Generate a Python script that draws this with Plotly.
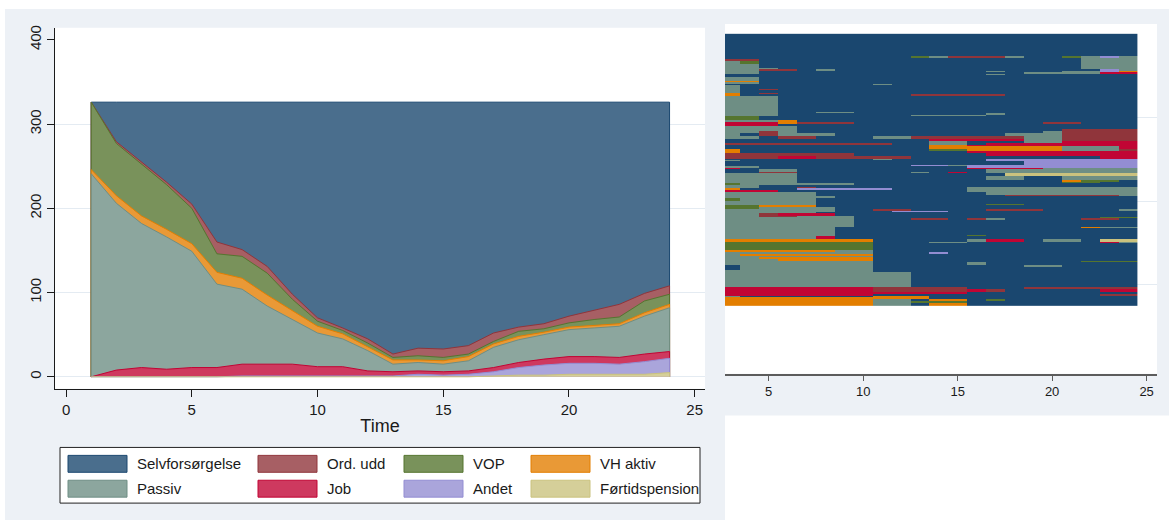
import re
import numpy as np
import plotly.graph_objects as go

W, H = 1169, 522

# ---- states (order = legend order, row-major) ----
states = ["Selvforsørgelse", "Ord. udd", "VOP", "VH aktiv",
          "Passiv", "Job", "Andet", "Førtidspension"]
state_codes = ["S", "O", "V", "H", "P", "J", "A", "F"]
state_rgb = [(26, 71, 111), (144, 53, 59), (85, 117, 47), (227, 126, 0),
             (110, 142, 132), (193, 5, 52), (147, 141, 210), (202, 194, 126)]

# ---- state distribution over time (number of persons) ----
time = list(range(1, 25))
selv = [0, 47, 71, 95, 121, 166, 175, 195, 228, 256, 268, 281,
        299, 292, 293, 289, 274, 267, 263, 254, 247, 240, 227, 218]
ord_udd = [0, 2, 3, 3, 5, 14, 8, 8, 6, 4, 3, 5,
           4, 9, 10, 10, 10, 5, 6, 8, 11, 15, 9, 10]
vop = [80, 62, 61, 53, 42, 22, 26, 26, 13, 6, 4, 4,
       3, 5, 4, 3, 3, 6, 4, 5, 7, 8, 14, 12]
vh_aktiv = [5, 9, 9, 9, 9, 14, 13, 13, 11, 8, 6, 5,
            5, 3, 4, 5, 4, 4, 3, 3, 3, 3, 4, 4]
passiv = [241, 198, 171, 157, 138, 99, 89, 69, 53, 40, 33, 24,
          9, 10, 9, 12, 24, 27, 29, 32, 34, 37, 45, 52]
job = [0, 8, 11, 9, 11, 11, 14, 14, 14, 11, 11, 6,
       5, 4, 4, 4, 5, 6, 7, 8, 8, 8, 9, 8]
andet = [0, 0, 0, 0, 0, 0, 1, 1, 1, 1, 1, 1,
         1, 3, 2, 3, 5, 9, 12, 13, 13, 12, 15, 17]
fortid = [0, 0, 0, 0, 0, 0, 0, 0, 0, 0, 0, 0,
          0, 0, 0, 0, 1, 2, 2, 3, 3, 3, 3, 5]

counts = {"Selvforsørgelse": selv, "Ord. udd": ord_udd, "VOP": vop,
          "VH aktiv": vh_aktiv, "Passiv": passiv, "Job": job,
          "Andet": andet, "Førtidspension": fortid}
stack_order = ["Førtidspension", "Andet", "Job", "Passiv",
               "VH aktiv", "VOP", "Ord. udd", "Selvforsørgelse"]

# ---- individual sequences: (run-length coded states for t=3..24, persons) ----
seq_time = list(range(3, 25))
seq_patterns = [
    ("S22", 14), ("S18O4", 1), ("S22", 11), ("S14A2S4A1F1", 1),
    ("S10V1P1O3P1S2V1P1A1P1", 2), ("S19P3", 1), ("O2S17P3", 2),
    ("P1V1S17P3", 4), ("P2S17P3", 5), ("P3S16P3", 1),
    ("P2O2S1P1S14A1P1", 3), ("P2S12P1S3P2A1H1", 1), ("P2S14P4J2", 2),
    ("S14P1S7", 1), ("S22", 3), ("P2S20", 5), ("H2S20", 1), ("P2S20", 2),
    ("S8P1S13", 1), ("P1S21", 5), ("P1S1O1S19", 1), ("P1S21", 4),
    ("H1S1O1S19", 1), ("H1S9O5S7", 2), ("P3S19", 20), ("P3S2P2S15", 1),
    ("P3S11P1S7", 2), ("P3S7P4S8", 1), ("V2S20", 5), ("P3H1S18", 3),
    ("J3H1O3S10O2S3", 2), ("J3S19", 2), ("P4S18", 4), ("P4S14O4", 3),
    ("P2O1P1S13P1O4", 2), ("P1S1O1P3S9P3O4", 3), ("P2S1O2S3P2O6P2O4", 4),
    ("S11J5P2O4", 3), ("S11P2S3P2J4", 2), ("O9S2P2S1J8", 2),
    ("S11H2J9", 2), ("S11H7P3J1", 3), ("H1S10V2H5P3O1", 2),
    ("H1S12J9", 3), ("O7S7J8", 4), ("O3J2O5S10J2", 3), ("S8P1S5A8", 1),
    ("P1S13A8", 2), ("S16A6", 4), ("S10A2P1A9", 2), ("P2S11A9", 2),
    ("J1S12J4P5", 1), ("S2P2S10P8", 4), ("S2O2S6P1S1J1S1P8", 1),
    ("P4S11F7", 3), ("P4S10P2S2P4", 5), ("P4S14H1V2S1", 2),
    ("P4S14V2S2", 2), ("V1P6S15", 2), ("P2S20", 2), ("P2S2O1S8P9", 2),
    ("H1S3A5S4P9", 2), ("J3S10P9", 2), ("P5S9P8", 4), ("P5S10O6P1", 1),
    ("P6S16", 3), ("V1P4S17", 3), ("P5S17", 4), ("P5S9V2S6", 1),
    ("V2H3S17", 2), ("V2P4S16", 3), ("P6S2O2S4O3S4P1", 2),
    ("P6S3A3S10", 2), ("P5S17", 1), ("P2O1J3S16", 3), ("P2O2P3S15", 2),
    ("P7S13V2", 1), ("P7S3O2S1O1P1S4O2S1", 2), ("P7S15", 9),
    ("P6S13H1P2", 1), ("P6S16", 8), ("P6S7V1S8", 1), ("P5J1S16", 4),
    ("H8S5P1J2S1P2S1F2", 3), ("V8S3P2S7J1P1", 2), ("V8S14", 8),
    ("H6P2S14", 2), ("P8S3A1S10", 3), ("P1H7S14", 2), ("P8S14", 2),
    ("P2H6S14", 2), ("P3H5S14", 2), ("P8S11V3", 2), ("P8S5P1S8", 3),
    ("S1P7S8P2S4", 3), ("S1P7S14", 3), ("P8S14", 3), ("P10S12", 11),
    ("P11S11", 1), ("P10S12", 6), ("J8O5S3O6", 2), ("J8O5J1O1S5J2", 3),
    ("J13S9", 3), ("J8S12O2", 2), ("P1S7H3S11", 2), ("H11S11", 2),
    ("H8P2S1H2S1V1S7", 2), ("H8P2V3S9", 3), ("H8P2S1H2S9", 3),
]


def rgb_hex(c):
    return "#%02x%02x%02x" % tuple(int(round(v)) for v in c)


def tint(c, k=0.79):
    return rgb_hex([v * k + 255 * (1 - k) for v in c])


line_col = {s: rgb_hex(c) for s, c in zip(states, state_rgb)}
fill_col = {s: tint(c) for s, c in zip(states, state_rgb)}


def px_x(p):
    return p / W


def px_y(p):
    return 1 - p / H


fig = go.Figure()

# ---- stacked areas (each drawn from zero up to its cumulative total) ----
cum = {}
running = np.zeros(len(time))
for s in stack_order:
    running = running + np.array(counts[s])
    cum[s] = running.copy()

for s in reversed(stack_order):
    xs = [time[0]] + time + [time[-1]]
    ys = [0] + list(cum[s]) + [0]
    fig.add_trace(go.Scatter(
        x=xs, y=ys, mode="lines", fill="toself",
        fillcolor=fill_col[s], line=dict(color=line_col[s], width=1),
        hoverinfo="skip", xaxis="x", yaxis="y", name=s))

# ---- sequence index plot ----
code_idx = {c: i for i, c in enumerate(state_codes)}
rows = []
for rle, n in seq_patterns:
    seq = []
    for code, k in re.findall(r"([A-Z])(\d+)", rle):
        seq += [code_idx[code]] * int(k)
    seq = (seq + [0] * len(seq_time))[:len(seq_time)]
    rows += [seq] * n
z = np.array(rows)
n_seq = z.shape[0]

cs = []
for i, c in enumerate(state_rgb):
    cs.append([i / 8, rgb_hex(c)])
    cs.append([(i + 1) / 8, rgb_hex(c)])

fig.add_trace(go.Heatmap(
    z=z, x=seq_time, y=list(range(n_seq)), colorscale=cs,
    zmin=-0.5, zmax=7.5, showscale=False, hoverinfo="skip",
    xaxis="x2", yaxis="y2"))

# ---- backgrounds ----
grey = "#edf1f6"
shapes = [
    dict(type="rect", xref="paper", yref="paper", layer="below",
         x0=px_x(5), x1=px_x(725), y0=px_y(520), y1=px_y(6),
         fillcolor=grey, line=dict(width=0)),
    dict(type="rect", xref="paper", yref="paper", layer="below",
         x0=px_x(715), x1=px_x(1169), y0=px_y(415), y1=px_y(6),
         fillcolor=grey, line=dict(width=0)),
    dict(type="rect", xref="paper", yref="paper", layer="below",
         x0=px_x(55), x1=px_x(705), y0=px_y(388), y1=px_y(25),
         fillcolor="white", line=dict(width=0)),
    dict(type="rect", xref="paper", yref="paper", layer="below",
         x0=px_x(725), x1=px_x(1157), y0=px_y(373), y1=px_y(21),
         fillcolor="white", line=dict(width=0)),
    # legend frame
    dict(type="rect", xref="paper", yref="paper",
         x0=px_x(60), x1=px_x(700), y0=px_y(503), y1=px_y(447),
         fillcolor="white", line=dict(color="#222222", width=1)),
]

annotations = []
leg_cols = [68, 258, 404, 531]
leg_rows = [463.5, 488.5]
for i, s in enumerate(states):
    cx = leg_cols[i % 4]
    cy = leg_rows[i // 4]
    shapes.append(dict(
        type="rect", xref="paper", yref="paper",
        x0=px_x(cx), x1=px_x(cx + 59), y0=px_y(cy + 8.5), y1=px_y(cy - 8.5),
        fillcolor=fill_col[s], line=dict(color=line_col[s], width=1)))
    annotations.append(dict(
        xref="paper", yref="paper", x=px_x(cx + 67), y=px_y(cy),
        text=s, showarrow=False, xanchor="left", yanchor="middle",
        font=dict(size=15, color="#1a1a1a")))

font_family = "Liberation Sans, Arial, sans-serif"
ax_col = "#1a1a1a"
grid_col = "#e4ebf2"

fig.update_layout(
    width=W, height=H, margin=dict(l=0, r=0, t=0, b=0),
    paper_bgcolor="white", plot_bgcolor="rgba(0,0,0,0)",
    showlegend=False, font=dict(family=font_family, color=ax_col),
    shapes=shapes, annotations=annotations,
    xaxis=dict(domain=[px_x(55), px_x(705)], range=[-0.44, 25.41],
               anchor="y", tickvals=[0, 5, 10, 15, 20, 25],
               showline=True, linecolor=ax_col, linewidth=1.2,
               ticks="outside", ticklen=7, tickcolor=ax_col,
               showgrid=False, zeroline=False,
               tickfont=dict(size=15),
               title=dict(text="Time", font=dict(size=18), standoff=2)),
    yaxis=dict(domain=[px_y(388), px_y(25)], range=[-14.2, 414.2],
               anchor="x", tickvals=[0, 100, 200, 300, 400], tickangle=-90,
               showline=True, linecolor=ax_col, linewidth=1.2,
               ticks="outside", ticklen=7, tickcolor=ax_col,
               showgrid=False, zeroline=False, tickfont=dict(size=15),
               minor=dict(tickvals=[0, 100, 200, 300], showgrid=True,
                          gridcolor=grid_col, gridwidth=1, ticks="")),
    xaxis2=dict(domain=[px_x(725), px_x(1157)], range=[2.69, 25.55],
                anchor="y2", tickvals=[5, 10, 15, 20, 25],
                showline=True, linecolor="#5c5c5c", linewidth=2,
                ticks="outside", ticklen=5, tickcolor="#5c5c5c",
                showgrid=False, zeroline=False, tickfont=dict(size=13)),
    yaxis2=dict(domain=[px_y(373), px_y(21)], range=[n_seq + 80.4, -12.4],
                anchor="x2", tickvals=[100, 200, 300],
                showticklabels=False, showline=False, ticks="",
                showgrid=True, gridcolor=grid_col, zeroline=False),
)

fig.write_html("out.html")
